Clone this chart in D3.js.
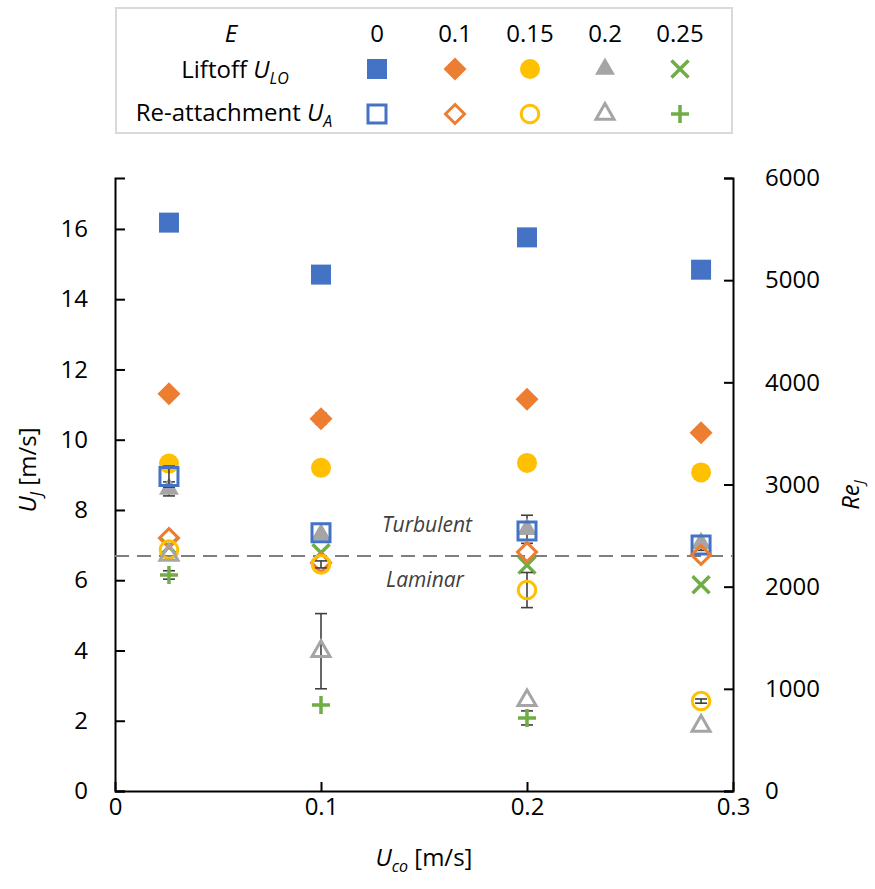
<!DOCTYPE html>
<html>
<head>
<meta charset="utf-8">
<script src="https://cdn.jsdelivr.net/npm/d3@7"></script>
<style>
body { margin: 0; background: #fff; }
svg text { font-family: "Open Sans", "Noto Sans", sans-serif; fill: #000; }
</style>
</head>
<body>
<svg id="chart"></svg>
<script>
// co-flow velocity of the four measurement groups
var uco = [0.0262, 0.1, 0.2, 0.2845];

var eLabels = ['0', '0.1', '0.15', '0.2', '0.25'];
var colors = ['#4472C4', '#ED7D31', '#FFC000', '#A5A5A5', '#70AD47'];

// liftoff velocity U_LO [m/s], one array per E
var lo0 = [16.18, 14.7, 15.76, 14.84];
var lo01 = [11.31, 10.6, 11.15, 10.2];
var lo015 = [9.32, 9.2, 9.34, 9.07];
var lo02 = [8.6, 7.3, 7.45, 7.05];
var lo025 = [6.95, 6.78, 6.43, 5.87];
var lo0Err = [0.2, 0, 0, 0];
var lo01Err = [0, 0.15, 0, 0];
var lo02Err = [0.2, 0, 0.4, 0.2];

// re-attachment velocity U_A [m/s]
var ra0 = [8.95, 7.35, 7.4, 7.0];
var ra01 = [7.2, 6.5, 6.8, 6.72];
var ra015 = [6.87, 6.45, 5.72, 2.56];
var ra02 = [6.72, 3.98, 2.58, 1.85];
var ra025 = [6.15, 2.45, 2.08, null];
var ra0Err = [0.3, 0, 0, 0];
var ra015Err = [0, 0.1, 0.5, 0.06];
var ra02Err = [0, 1.07, 0, 0];
var ra025Err = [0.12, 0, 0.2, 0];

var reTransition = 2300;
var xTicks = [0, 0.1, 0.2, 0.3];
var yTicks = [0, 2, 4, 6, 8, 10, 12, 14, 16];
var reTicks = [0, 1000, 2000, 3000, 4000, 5000, 6000];

var series = [
    {vals: lo0, err: lo0Err, shape: 'square', c: 0, open: false},
    {vals: lo01, err: lo01Err, shape: 'diamond', c: 1, open: false},
    {vals: lo015, err: null, shape: 'circle', c: 2, open: false},
    {vals: lo02, err: lo02Err, shape: 'triangle', c: 3, open: false},
    {vals: lo025, err: null, shape: 'x', c: 4, open: false},
    {vals: ra0, err: ra0Err, shape: 'square', c: 0, open: true},
    {vals: ra01, err: null, shape: 'diamond', c: 1, open: true},
    {vals: ra015, err: ra015Err, shape: 'circle', c: 2, open: true},
    {vals: ra02, err: ra02Err, shape: 'triangle', c: 3, open: true},
    {vals: ra025, err: ra025Err, shape: 'plus', c: 4, open: true}
];

function markerPath(shape, open) {
    var p = d3.path();
    if (shape == 'square') {
        var h = open ? 9 : 10;
        p.rect(-h, -h, 2 * h, 2 * h);
    } else if (shape == 'diamond') {
        var r = open ? 9.5 : 11.5;
        p.moveTo(0, -r); p.lineTo(r, 0); p.lineTo(0, r); p.lineTo(-r, 0); p.closePath();
    } else if (shape == 'circle') {
        var rc = open ? 8.8 : 10;
        p.arc(0, 0, rc, 0, 2 * Math.PI);
    } else if (shape == 'triangle') {
        var a = open ? 18 : 20;
        p.moveTo(0, -a / Math.sqrt(3)); p.lineTo(a / 2, a / (2 * Math.sqrt(3)));
        p.lineTo(-a / 2, a / (2 * Math.sqrt(3))); p.closePath();
    } else if (shape == 'x') {
        var hx = 8.5;
        p.moveTo(-hx, -hx); p.lineTo(hx, hx); p.moveTo(-hx, hx); p.lineTo(hx, -hx);
    } else {
        var hp = 9;
        p.moveTo(-hp, 0); p.lineTo(hp, 0); p.moveTo(0, -hp); p.lineTo(0, hp);
    }
    return p.toString();
}

function styleMarker(sel, s) {
    var col = colors[s.c];
    if (s.shape == 'x' || s.shape == 'plus') {
        sel.attr('fill', 'none').attr('stroke', col).attr('stroke-width', 3.5);
    } else if (s.open) {
        sel.attr('fill', 'none').attr('stroke', col).attr('stroke-width', 3);
    } else {
        sel.attr('fill', col).attr('stroke', 'none');
    }
}

document.addEventListener("DOMContentLoaded", (event) => {
    drawChart();
});

function drawChart() {
    var svgWidth = 875, svgHeight = 889;
    var left = 115, right = 733, top = 178, bottom = 791;
    var fs = 24;

    var svg = d3.select('#chart')
        .attr('width', svgWidth)
        .attr('height', svgHeight);

    var x = d3.scaleLinear().domain([0, 0.3]).range([left, right]);
    var y = d3.scaleLinear().domain([0, 17.45]).range([bottom, top]);
    var yRe = d3.scaleLinear().domain([0, 6000]).range([bottom, top]);

    // legend box
    var lg = svg.append('g');
    lg.append('rect')
        .attr('x', 116).attr('y', 8).attr('width', 616).attr('height', 125)
        .attr('fill', '#fff').attr('stroke', '#d9d9d9').attr('stroke-width', 2);
    var colX = [377, 455, 530, 605, 680];
    var labX = 233;
    lg.append('text').attr('x', labX - 2).attr('y', 42).attr('text-anchor', 'middle')
        .attr('font-size', fs).attr('font-style', 'italic').text('E');
    lg.selectAll('.eh').data(eLabels).enter().append('text')
        .attr('x', (d, i) => colX[i]).attr('y', 42)
        .attr('text-anchor', 'middle').attr('font-size', fs).text(d => d);

    var t1 = lg.append('text').attr('x', labX + 2).attr('y', 78).attr('text-anchor', 'middle').attr('font-size', fs);
    t1.append('tspan').text('Liftoff ');
    t1.append('tspan').attr('font-style', 'italic').text('U');
    t1.append('tspan').attr('font-style', 'italic').attr('font-size', 16).attr('dy', 6).text('LO');
    var t2 = lg.append('text').attr('x', labX + 1).attr('y', 121).attr('text-anchor', 'middle').attr('font-size', fs);
    t2.append('tspan').text('Re-attachment ');
    t2.append('tspan').attr('font-style', 'italic').text('U');
    t2.append('tspan').attr('font-style', 'italic').attr('font-size', 16).attr('dy', 6).text('A');

    series.forEach(function(s) {
        var row = s.open ? 114 : 69;
        lg.append('path')
            .attr('transform', 'translate(' + colX[s.c] + ',' + row + ')')
            .attr('d', markerPath(s.shape, s.open))
            .call(styleMarker, s);
    });

    // axes
    svg.append('g')
        .attr('transform', 'translate(0,' + bottom + ')')
        .call(d3.axisBottom(x).tickValues(xTicks).tickSizeInner(-9).tickSizeOuter(0).tickPadding(7)
            .tickFormat(d => d === 0 ? '0' : d.toFixed(1)))
        .call(g => g.selectAll('text').attr('font-size', fs).attr('font-family', null))
        .call(g => g.selectAll('line,path').attr('stroke', '#000').attr('stroke-width', 2));

    svg.append('g')
        .attr('transform', 'translate(' + left + ',0)')
        .call(d3.axisLeft(y).tickValues(yTicks).tickSizeInner(-10).tickSizeOuter(-10).tickPadding(27))
        .call(g => g.selectAll('text').attr('font-size', fs).attr('font-family', null))
        .call(g => g.selectAll('line,path').attr('stroke', '#000').attr('stroke-width', 2));

    svg.append('g')
        .attr('transform', 'translate(' + right + ',0)')
        .call(d3.axisRight(yRe).tickValues(reTicks).tickSizeInner(-9).tickSizeOuter(-9).tickPadding(32)
            .tickFormat(d3.format('d')))
        .call(g => g.selectAll('text').attr('font-size', fs).attr('font-family', null))
        .call(g => g.selectAll('line,path').attr('stroke', '#000').attr('stroke-width', 2));

    // laminar / turbulent transition
    svg.append('line')
        .attr('x1', left).attr('x2', right)
        .attr('y1', yRe(reTransition)).attr('y2', yRe(reTransition))
        .attr('stroke', '#7f7f7f').attr('stroke-width', 2.2)
        .attr('stroke-dasharray', '14,8');
    svg.append('text').attr('x', 427).attr('y', yRe(reTransition) - 24)
        .attr('text-anchor', 'middle').attr('font-size', 21).attr('font-style', 'italic')
        .style('fill', '#404040').text('Turbulent');
    svg.append('text').attr('x', 425).attr('y', yRe(reTransition) + 31)
        .attr('text-anchor', 'middle').attr('font-size', 21).attr('font-style', 'italic')
        .style('fill', '#404040').text('Laminar');

    // data
    var plot = svg.append('g');
    series.forEach(function(s) {
        var pts = uco.map((u, i) => ({u: u, v: s.vals[i], e: s.err ? s.err[i] : 0}))
            .filter(d => d.v !== null);
        var eb = plot.append('g').attr('stroke', '#404040').attr('stroke-width', 1.6);
        pts.filter(d => d.e > 0).forEach(function(d) {
            var cx = x(d.u);
            eb.append('line').attr('x1', cx).attr('x2', cx).attr('y1', y(d.v - d.e)).attr('y2', y(d.v + d.e));
            eb.append('line').attr('x1', cx - 6).attr('x2', cx + 6).attr('y1', y(d.v - d.e)).attr('y2', y(d.v - d.e));
            eb.append('line').attr('x1', cx - 6).attr('x2', cx + 6).attr('y1', y(d.v + d.e)).attr('y2', y(d.v + d.e));
        });
        plot.append('g').selectAll('path').data(pts).enter().append('path')
            .attr('transform', d => 'translate(' + x(d.u) + ',' + y(d.v) + ')')
            .attr('d', markerPath(s.shape, s.open))
            .call(styleMarker, s);
    });

    // axis titles
    var xt = svg.append('text').attr('x', 424).attr('y', 866).attr('text-anchor', 'middle').attr('font-size', fs);
    xt.append('tspan').attr('font-style', 'italic').text('U');
    xt.append('tspan').attr('font-style', 'italic').attr('font-size', 16).attr('dy', 6).text('co');
    xt.append('tspan').attr('dy', -6).text(' [m/s]');

    var yt = svg.append('text').attr('transform', 'translate(36,470) rotate(-90)')
        .attr('text-anchor', 'middle').attr('font-size', fs);
    yt.append('tspan').attr('font-style', 'italic').text('U');
    yt.append('tspan').attr('font-style', 'italic').attr('font-size', 16).attr('dy', 6).text('J');
    yt.append('tspan').attr('dy', -6).text(' [m/s]');

    var rt = svg.append('text').attr('transform', 'translate(859,495) rotate(-90)')
        .attr('text-anchor', 'middle').attr('font-size', fs);
    rt.append('tspan').attr('font-style', 'italic').text('Re');
    rt.append('tspan').attr('font-style', 'italic').attr('font-size', 15).attr('dy', 5).text('J');
}
</script>
</body>
</html>
